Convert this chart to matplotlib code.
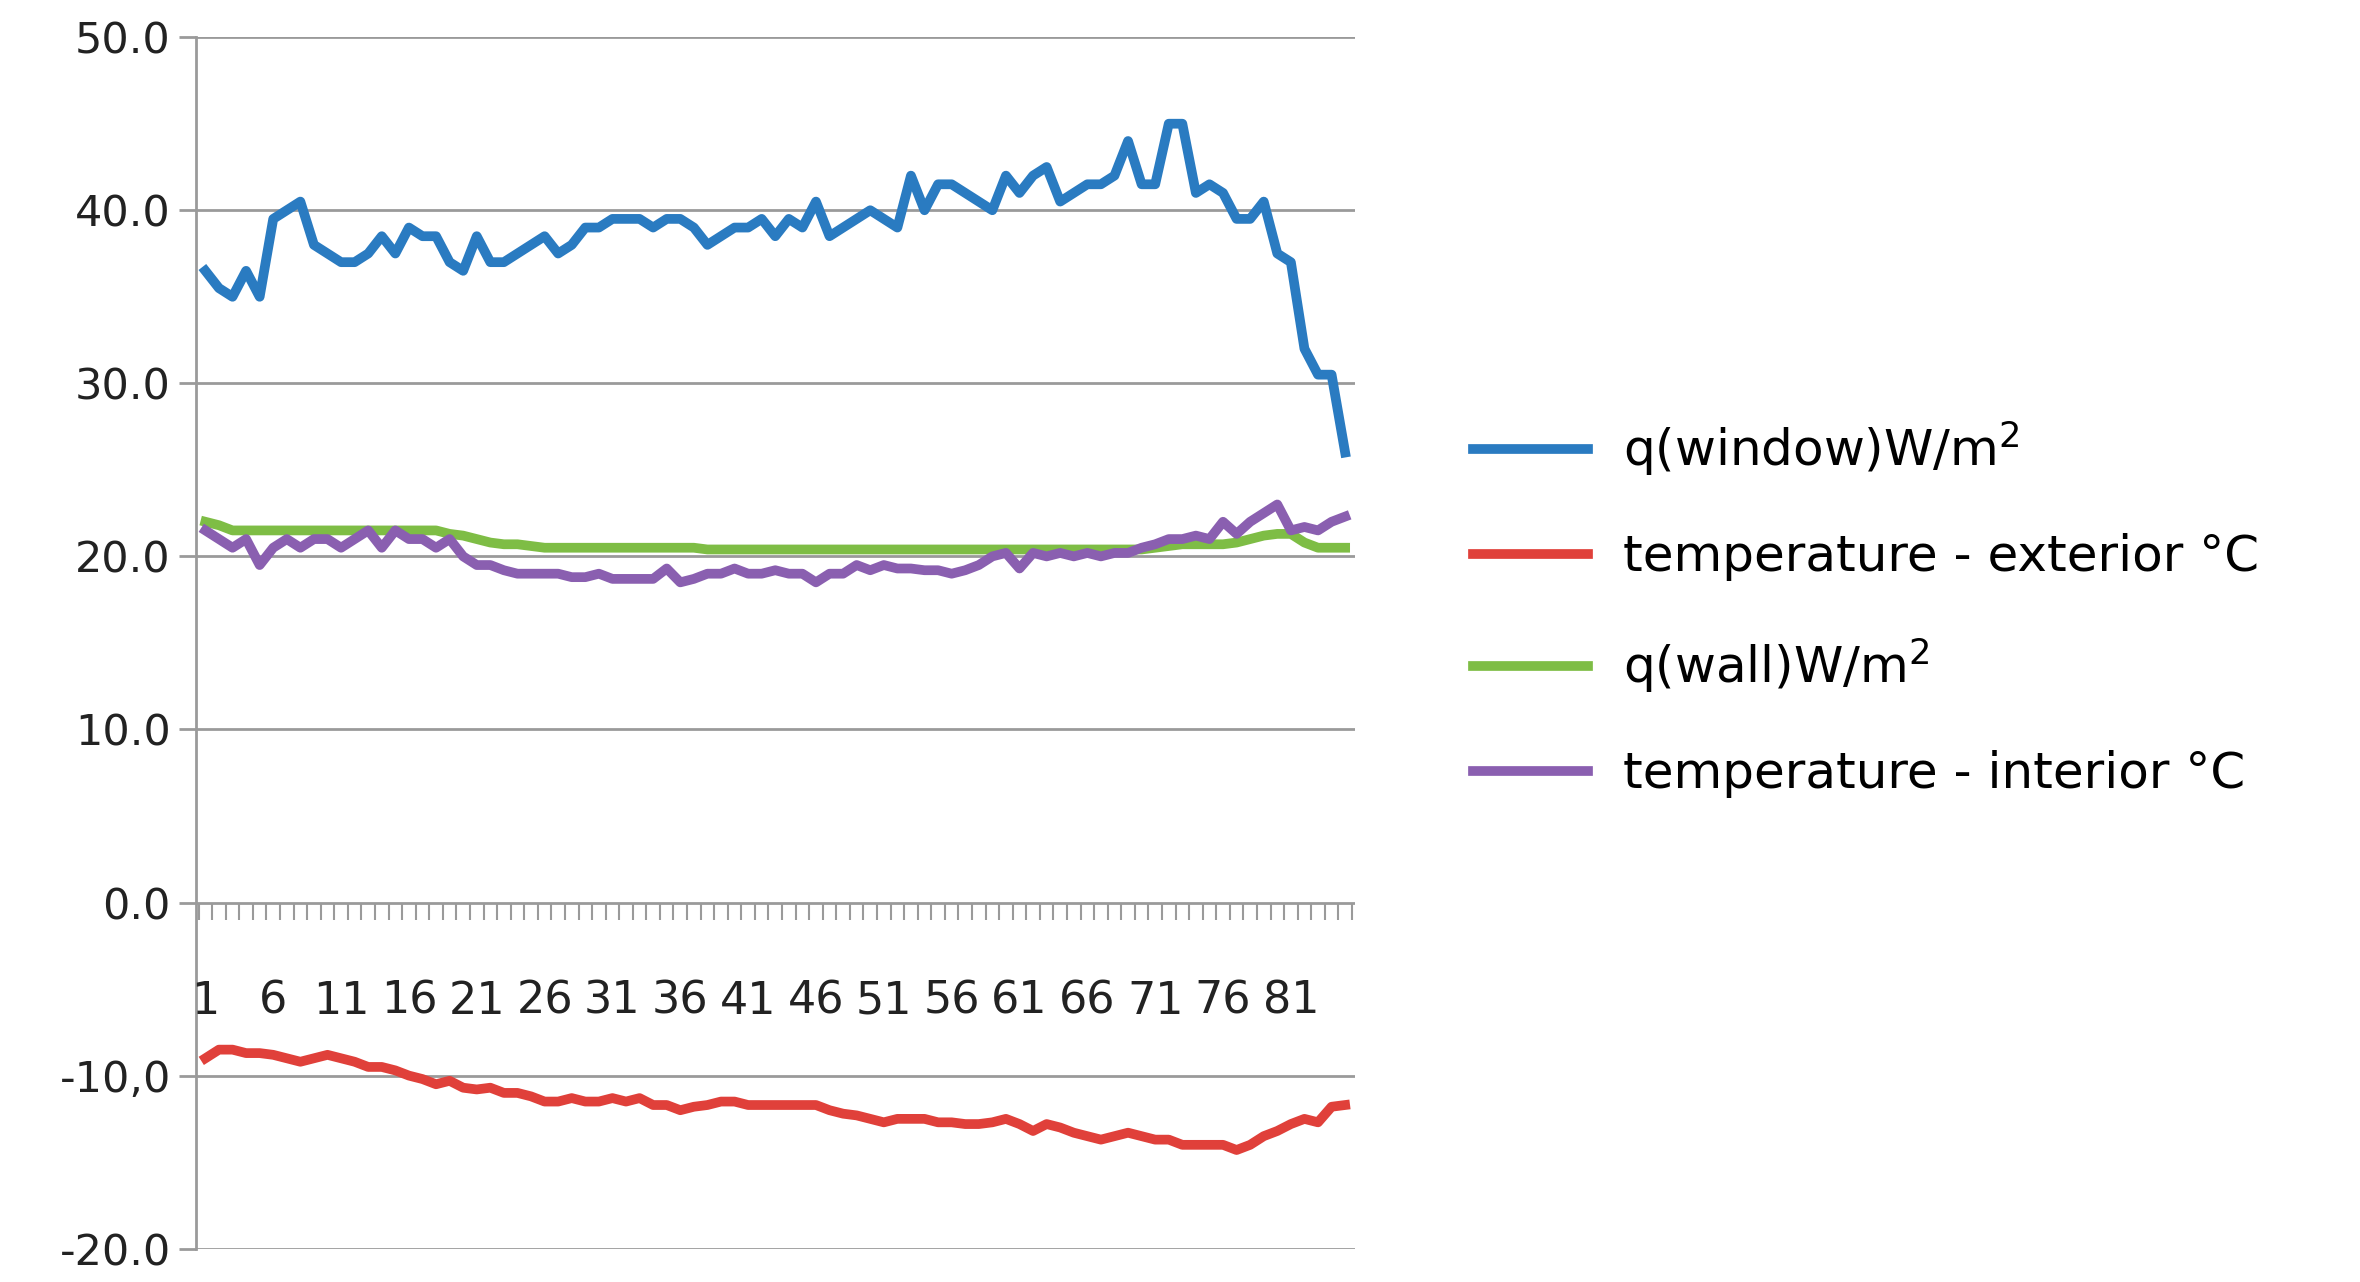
import matplotlib.pyplot as plt
import numpy as np

# values
q_window = [36.5, 35.5, 35, 36.5, 35, 39.5, 40, 40.5, 38, 37.5, 37, 37, 37.5, 38.5, 37.5,
            39, 38.5, 38.5, 37, 36.5, 38.5, 37, 37, 37.5, 38, 38.5, 37.5, 38, 39, 39,
            39.5, 39.5, 39.5, 39, 39.5, 39.5, 39, 38, 38.5, 39, 39, 39.5, 38.5, 39.5, 39,
            40.5, 38.5, 39, 39.5, 40, 39.5, 39, 42, 40, 41.5, 41.5, 41, 40.5, 40, 42,
            41, 42, 42.5, 40.5, 41, 41.5, 41.5, 42, 44, 41.5, 41.5, 45, 45, 41, 41.5,
            41, 39.5, 39.5, 40.5, 37.5, 37, 32, 30.5, 30.5, 26]
t_ext = [-9, -8.5, -8.5, -8.7, -8.7, -8.8, -9, -9.2, -9, -8.8, -9, -9.2, -9.5, -9.5, -9.7,
         -10, -10.2, -10.5, -10.3, -10.7, -10.8, -10.7, -11, -11, -11.2, -11.5, -11.5, -11.3, -11.5, -11.5,
         -11.3, -11.5, -11.3, -11.7, -11.7, -12, -11.8, -11.7, -11.5, -11.5, -11.7, -11.7, -11.7, -11.7, -11.7,
         -11.7, -12, -12.2, -12.3, -12.5, -12.7, -12.5, -12.5, -12.5, -12.7, -12.7, -12.8, -12.8, -12.7, -12.5,
         -12.8, -13.2, -12.8, -13, -13.3, -13.5, -13.7, -13.5, -13.3, -13.5, -13.7, -13.7, -14, -14, -14,
         -14, -14.3, -14, -13.5, -13.2, -12.8, -12.5, -12.7, -11.8, -11.7]
q_wall = [22, 21.8, 21.5, 21.5, 21.5, 21.5, 21.5, 21.5, 21.5, 21.5, 21.5, 21.5, 21.5, 21.5, 21.5,
          21.5, 21.5, 21.5, 21.3, 21.2, 21, 20.8, 20.7, 20.7, 20.6, 20.5, 20.5, 20.5, 20.5, 20.5,
          20.5, 20.5, 20.5, 20.5, 20.5, 20.5, 20.5, 20.4, 20.4, 20.4, 20.4, 20.4, 20.4, 20.4, 20.4,
          20.4, 20.4, 20.4, 20.4, 20.4, 20.4, 20.4, 20.4, 20.4, 20.4, 20.4, 20.4, 20.4, 20.4, 20.4,
          20.4, 20.4, 20.4, 20.4, 20.4, 20.4, 20.4, 20.4, 20.4, 20.4, 20.5, 20.6, 20.7, 20.7, 20.7,
          20.7, 20.8, 21, 21.2, 21.3, 21.3, 20.8, 20.5, 20.5, 20.5]
t_int = [21.5, 21, 20.5, 21, 19.5, 20.5, 21, 20.5, 21, 21, 20.5, 21, 21.5, 20.5, 21.5,
         21, 21, 20.5, 21, 20, 19.5, 19.5, 19.2, 19, 19, 19, 19, 18.8, 18.8, 19,
         18.7, 18.7, 18.7, 18.7, 19.3, 18.5, 18.7, 19, 19, 19.3, 19, 19, 19.2, 19, 19,
         18.5, 19, 19, 19.5, 19.2, 19.5, 19.3, 19.3, 19.2, 19.2, 19, 19.2, 19.5, 20, 20.2,
         19.3, 20.2, 20, 20.2, 20, 20.2, 20, 20.2, 20.2, 20.5, 20.7, 21, 21, 21.2, 21,
         22, 21.3, 22, 22.5, 23, 21.5, 21.7, 21.5, 22, 22.3]

series = [
    (q_window, "q(window)W/m$^2$", "#2a7bc1"),
    (t_ext, "temperature - exterior °C", "#e0403a"),
    (q_wall, "q(wall)W/m$^2$", "#7ebd45"),
    (t_int, "temperature - interior °C", "#8a5fb0"),
]
n_cat = 85
y_ticks = [50, 40, 30, 20, 10, 0, -10, -20]
y_labels = ["50.0", "40.0", "30.0", "20.0", "10.0", "0.0", "-10,0", "-20.0"]

fig = plt.figure(figsize=(23.6, 12.82), dpi=100)
ax = fig.add_axes([0.083, 0.026, 0.491, 0.945])
for y in y_ticks:
    ax.axhline(y, color="#9a9a9a", lw=2, zorder=0)
for vals, label, color in series:
    x = np.arange(1, len(vals) + 1)
    ax.plot(x, vals, color=color, lw=7, label=label, solid_joinstyle="round")

ax.set_xlim(0.3, n_cat + 0.7)
ax.set_ylim(-20, 50)
ax.set_yticks(y_ticks)
ax.set_yticklabels(y_labels, fontsize=31, color="#222222")
ax.tick_params(axis="y", length=12, width=2, color="#9a9a9a", pad=6)
ax.set_xticks([])
for s in ["top", "right", "bottom"]:
    ax.spines[s].set_visible(False)
ax.spines["left"].set_color("#9a9a9a")
ax.spines["left"].set_linewidth(2)

# category ticks along the zero line
edges = np.arange(0.5, n_cat + 1.0, 1.0)
ax.vlines(edges, -1.0, 0, color="#9a9a9a", lw=1.5)
for i in range(1, n_cat + 1, 5):
    ax.text(i, -5.7, str(i), fontsize=32, ha="center", va="center", color="#222222")

fig.legend(loc="center left", bbox_to_anchor=(0.605, 0.525), frameon=False,
           fontsize=36, handlelength=2.3, labelspacing=1.1, handletextpad=0.7)
fig.savefig("out.png", dpi=100)
